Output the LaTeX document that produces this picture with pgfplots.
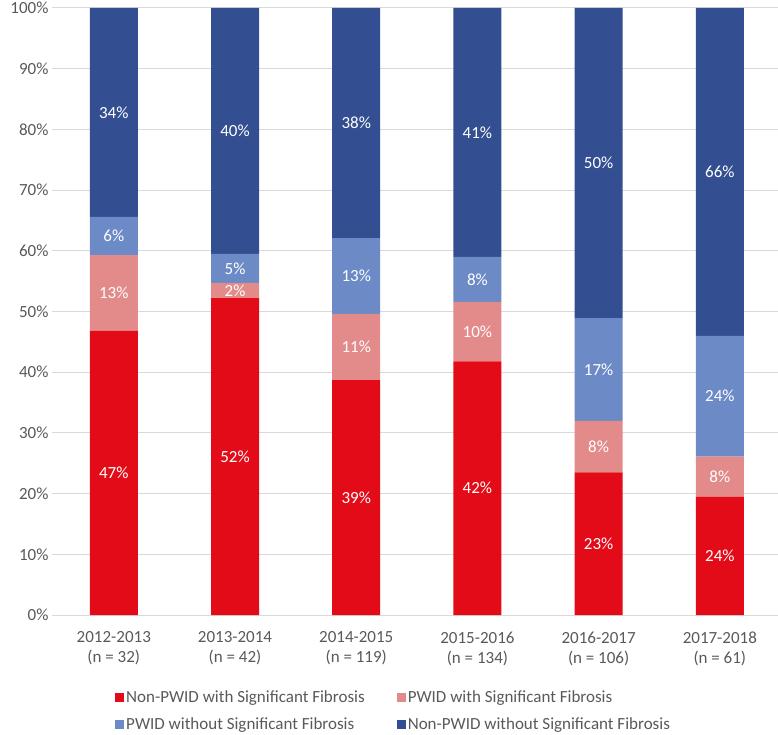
\documentclass[border=0pt]{standalone}
\usepackage{fontspec}
\setmainfont{Carlito}
\usepackage{pgfplots}
\pgfplotsset{compat=1.18}
\definecolor{cRed}{HTML}{E30B17}
\definecolor{cPink}{HTML}{E38A8A}
\definecolor{cLBlue}{HTML}{6C8BC6}
\definecolor{cDBlue}{HTML}{344F91}
\definecolor{cText}{HTML}{595959}
\definecolor{cGrid}{HTML}{D9D9D9}
\newcommand{\cfont}{\fontsize{17bp}{20bp}\selectfont}
\begin{document}
\begin{tikzpicture}
\useasboundingbox (-52bp,-120bp) rectangle (726bp,615bp);
\pgfplotsset{base/.style={
  at={(0,0)}, anchor=south west,
  scale only axis, width=726bp, height=607bp,
  xmin=-0.51, xmax=5.48, ymin=0, ymax=100,
}}
\begin{axis}[base,
  ybar stacked, bar width=48bp,
  axis line style={draw=none},
  major tick length=0pt,
  ymajorgrids, grid style={cGrid, line width=1bp},
  ytick={0,10,20,30,40,50,60,70,80,90,100},
  yticklabels={0\%,10\%,20\%,30\%,40\%,50\%,60\%,70\%,80\%,90\%,100\%},
  xtick={0,1,2,3,4,5},
  xticklabels={{2012-2013\\(n = 32)},{2013-2014\\(n = 42)},{2014-2015\\(n = 119)},{2015-2016\\(n = 134)},{2016-2017\\(n = 106)},{2017-2018\\(n = 61)}},
  ticklabel style={font=\cfont, text=cText},
  xticklabel style={align=center, yshift=-13bp},
  legend columns=2,
  legend cell align=left,
  legend style={at={(0.0868,-0.121)}, anchor=north west, draw=none, fill=none, inner sep=0pt,
    font=\cfont, text=cText,
    /tikz/every even column/.append style={column sep=30bp},
    row sep=10bp},
  legend image code/.code={\fill[#1] (0bp,-4.5bp) rectangle (9bp,4.5bp);},
]
\addplot[fill=cRed, draw=none] coordinates {(0,46.8) (1,52.2) (2,38.7) (3,41.8) (4,23.5) (5,19.5)};
\addlegendentry{Non-PWID with Significant Fibrosis}
\addplot[fill=cPink, draw=none] coordinates {(0,12.5) (1,2.5) (2,10.9) (3,9.8) (4,8.5) (5,6.6)};
\addlegendentry{PWID with Significant Fibrosis}
\addplot[fill=cLBlue, draw=none] coordinates {(0,6.3) (1,4.8) (2,12.5) (3,7.4) (4,16.9) (5,19.9)};
\addlegendentry{PWID without Significant Fibrosis}
\addplot[fill=cDBlue, draw=none] coordinates {(0,34.4) (1,40.5) (2,37.9) (3,41.0) (4,51.1) (5,54.0)};
\addlegendentry{Non-PWID without Significant Fibrosis}
\end{axis}
\begin{axis}[base, hide axis, clip=false,
  nodes near coords style={anchor=center, text=white, font=\cfont}]
\addplot[draw=none, mark=none, nodes near coords, point meta=explicit symbolic]
  coordinates {(0,23.4)[47\%] (1,26.1)[52\%] (2,19.35)[39\%] (3,20.9)[42\%] (4,11.75)[23\%] (5,9.75)[24\%]};
\addplot[draw=none, mark=none, nodes near coords, point meta=explicit symbolic]
  coordinates {(0,53.05)[13\%] (1,53.45)[2\%] (2,44.15)[11\%] (3,46.7)[10\%] (4,27.75)[8\%] (5,22.8)[8\%]};
\addplot[draw=none, mark=none, nodes near coords, point meta=explicit symbolic]
  coordinates {(0,62.45)[6\%] (1,57.1)[5\%] (2,55.85)[13\%] (3,55.3)[8\%] (4,40.45)[17\%] (5,36.05)[24\%]};
\addplot[draw=none, mark=none, nodes near coords, point meta=explicit symbolic]
  coordinates {(0,82.8)[34\%] (1,79.75)[40\%] (2,81.05)[38\%] (3,79.5)[41\%] (4,74.45)[50\%] (5,73.0)[66\%]};
\end{axis}
\end{tikzpicture}
\end{document}
